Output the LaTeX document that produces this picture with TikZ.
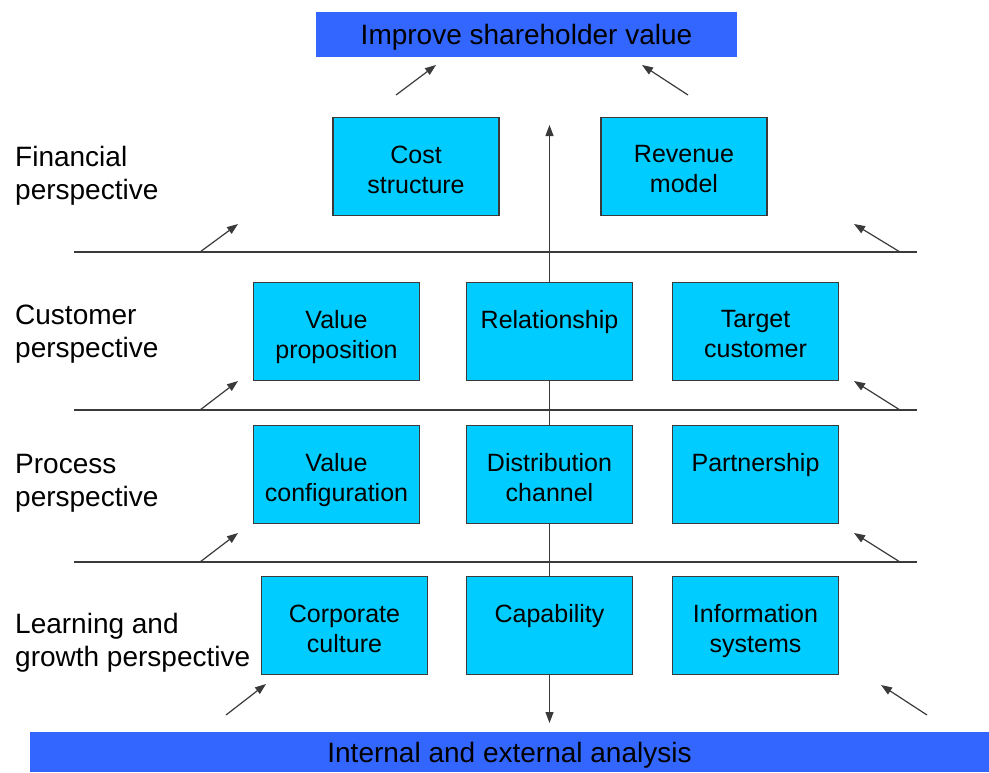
\documentclass[tikz,border=0pt]{standalone}
\usepackage{fontspec}
\setmainfont{Liberation Sans}
\usetikzlibrary{positioning, arrows.meta}
\definecolor{barblue}{HTML}{3366FF}
\definecolor{cellcyan}{HTML}{00CCFF}
\definecolor{linegray}{HTML}{3A3A3A}
\tikzset{>={Triangle[length=11pt,width=8pt]},
         x=1pt, y=-1pt,
         cell/.style={draw=linegray, line width=1.2pt, fill=cellcyan,
                      minimum width=166pt, minimum height=98pt,
                      inner sep=0pt, outer sep=0pt},
         celltext/.style={align=center, inner sep=0pt,
                          font=\fontsize{25}{30}\selectfont},
         persp/.style={anchor=west, align=left, inner sep=0pt,
                       font=\fontsize{28}{33}\selectfont},
         bar/.style={fill=barblue, inner sep=0pt, text depth=0pt,
                     font=\fontsize{28}{33}\selectfont},
         hline/.style={draw=linegray, line width=1.2pt},
         }
\begin{document}
\begin{tikzpicture}
    \useasboundingbox (0,0) rectangle (989,772);

    \node[bar, minimum width=421pt, minimum height=45pt] (goal) at (526.5,34.5) {Improve shareholder value};
    \node[bar, minimum width=959pt, minimum height=40pt] (base) at (509.5,752) {Internal and external analysis};

    % perspectives
    \node[persp] (fin) at (15,176) {Financial\\perspective};
    \node[persp] (cus) at (15,334) {Customer\\perspective};
    \node[persp] (pro) at (15,483) {Process\\perspective};
    \node[persp] (lg)  at (15,643) {Learning and\\growth perspective};

    \foreach \y in {252,410,562}
        \draw[hline] (74,\y) -- (917,\y);

    % boxes
    \node[cell] (cost) at (416,166.5) {};
    \node[cell] (rev)  at (684,166.5) {};
    \node[cell] (rel)  at (549.5,331.5) {};
    \node[cell, left=47pt of rel]    (prop)    {};
    \node[cell, right=40pt of rel]   (target)  {};
    \node[cell, below=45pt of rel]   (dist)    {};
    \node[cell, left=47pt of dist]   (config)  {};
    \node[cell, right=40pt of dist]  (partner) {};
    \node[cell, below=53pt of dist]  (capab)   {};
    \node[cell, left=39pt of capab]  (culture) {};
    \node[cell, right=40pt of capab] (infosys) {};

    \node[celltext, below=28pt of cost.north]    (cost-t)    {Cost\\structure};
    \node[celltext, below=28pt of rev.north]     (rev-t)     {Revenue\\model};
    \node[celltext, below=28pt of prop.north]    (prop-t)    {Value\\proposition};
    \node[celltext, below=28pt of rel.north]     (rel-t)     {Relationship};
    \node[celltext, below=28pt of target.north]  (target-t)  {Target\\customer};
    \node[celltext, below=28pt of config.north]  (config-t)  {Value\\configuration};
    \node[celltext, below=28pt of dist.north]    (dist-t)    {Distribution\\channel};
    \node[celltext, below=28pt of partner.north] (partner-t) {Partnership};
    \node[celltext, below=28pt of culture.north] (culture-t) {Corporate\\culture};
    \node[celltext, below=28pt of capab.north]   (capab-t)   {Capability};
    \node[celltext, below=28pt of infosys.north] (infosys-t) {Information\\systems};

    % axis through the middle column
    \coordinate (up)   at (549.5,125);
    \coordinate (down) at (549.5,723);
    \draw[hline, ->] (rel.north) -- (up);
    \draw[hline] (rel) -- (dist) (dist) -- (capab);
    \draw[hline, ->] (capab.south) -- (down);

    % small arrows
    \foreach \sx/\sy/\tx/\ty in {396/95/436/65, 688/95/642/65,
                                 200/252/238/224, 900/252/854/224,
                                 200/410/238/381, 900/410/854/381,
                                 200/562/238/533, 900/562/854/533,
                                 226/715/266/684, 927/715/881/685}
        \draw[hline, ->] (\sx,\sy) -- (\tx,\ty);
\end{tikzpicture}
\end{document}
